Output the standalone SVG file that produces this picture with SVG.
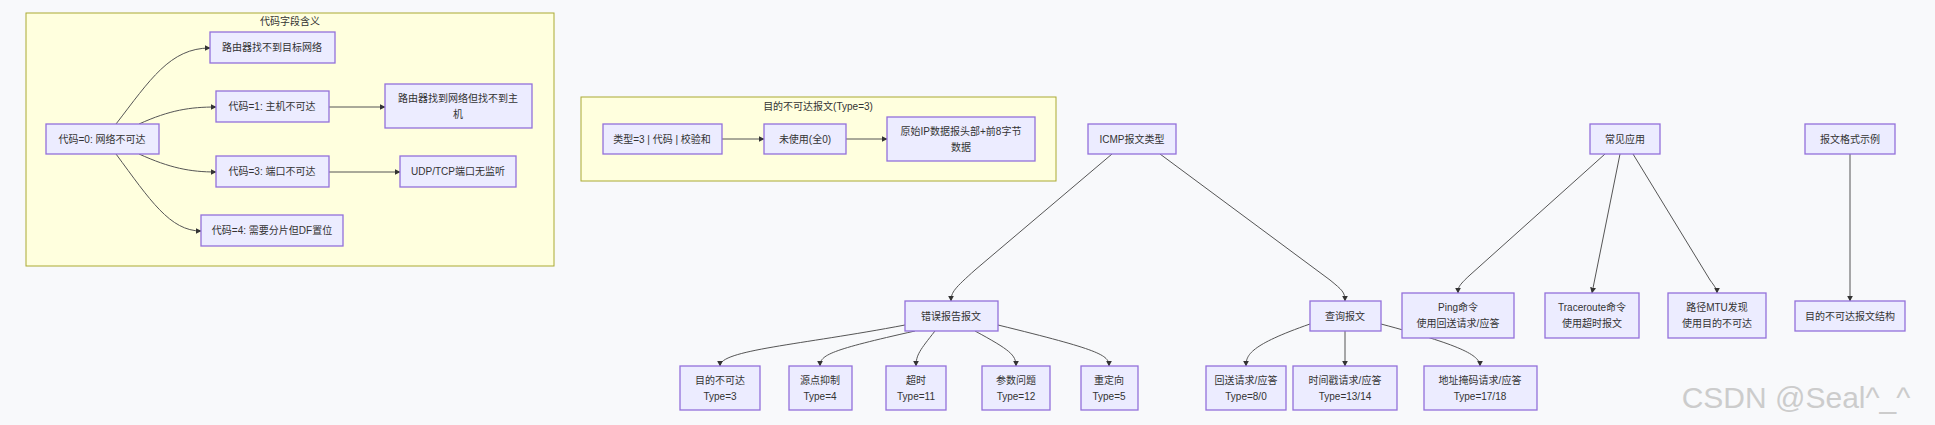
<svg xmlns="http://www.w3.org/2000/svg" width="1935" height="425" viewBox="0 0 1935 425">
<style>
.n rect{fill:#ECECFF;stroke:#9370DB;stroke-width:1.3}
.c{fill:#ffffde;stroke:#aaaa33;stroke-width:1}
text{font-family:"Liberation Sans","Noto Sans CJK SC",sans-serif;font-size:10px;fill:#333;text-anchor:middle;dominant-baseline:central}
.e path{fill:none;stroke:#555;stroke-width:1}
</style>
<defs><marker id="a" viewBox="0 0 10 10" refX="9" refY="5" markerWidth="6" markerHeight="6" orient="auto"><path d="M0,0L10,5L0,10z" fill="#333"/></marker></defs>
<rect width="1935" height="425" fill="#f8f9fb"/>
<g id="cluster1"><rect class="c" x="26" y="13" width="528" height="253"/><text x="290" y="21">代码字段含义</text></g>
<g id="cluster2"><rect class="c" x="581" y="97" width="475" height="84"/><text x="818" y="106">目的不可达报文(Type=3)</text></g>
<g class="e">
<path d="M116,124C150,80 170,48 210,48" marker-end="url(#a)"/>
<path d="M139,124C170,110 190,107 216,107" marker-end="url(#a)"/>
<path d="M139,154C170,168 190,172 216,172" marker-end="url(#a)"/>
<path d="M116,154C150,200 170,231 201,231" marker-end="url(#a)"/>
<path d="M329,107H385" marker-end="url(#a)"/>
<path d="M329,172H400" marker-end="url(#a)"/>
<path d="M722,139H764" marker-end="url(#a)"/>
<path d="M846,139H887" marker-end="url(#a)"/>
<path d="M1112,154L975,270C955,288 951,292 951,301" marker-end="url(#a)"/>
<path d="M1160,154L1330,280C1342,290 1345,292 1345,301" marker-end="url(#a)"/>
<path d="M905,325C800,345 720,350 720,366" marker-end="url(#a)"/>
<path d="M915,331C830,350 820,355 820,366" marker-end="url(#a)"/>
<path d="M935,331C920,350 916,355 916,366" marker-end="url(#a)"/>
<path d="M975,331C1010,350 1016,355 1016,366" marker-end="url(#a)"/>
<path d="M998,325C1100,350 1109,355 1109,366" marker-end="url(#a)"/>
<path d="M1310,324C1250,345 1246,355 1246,366" marker-end="url(#a)"/>
<path d="M1345,331V366" marker-end="url(#a)"/>
<path d="M1381,324C1460,345 1480,355 1480,366" marker-end="url(#a)"/>
<path d="M1605,154L1470,275C1458,286 1458,288 1458,293" marker-end="url(#a)"/>
<path d="M1620,154L1592,293" marker-end="url(#a)"/>
<path d="M1633,154L1710,280C1716,288 1717,290 1717,293" marker-end="url(#a)"/>
<path d="M1850,154V301" marker-end="url(#a)"/>
</g>
<g class="n">
<g id="code0"><rect x="46" y="124" width="113" height="30"/><text x="102" y="139">代码=0: 网络不可达</text></g>
<g id="net"><rect x="210" y="32" width="125" height="31"/><text x="272" y="47">路由器找不到目标网络</text></g>
<g id="code1"><rect x="216" y="91" width="113" height="31"/><text x="272" y="106">代码=1: 主机不可达</text></g>
<g id="host"><rect x="385" y="84" width="147" height="44"/><text x="458" y="98">路由器找到网络但找不到主</text><text x="458" y="114">机</text></g>
<g id="code3"><rect x="216" y="156" width="113" height="31"/><text x="272" y="171">代码=3: 端口不可达</text></g>
<g id="port"><rect x="400" y="156" width="116" height="31"/><text x="458" y="171">UDP/TCP端口无监听</text></g>
<g id="code4"><rect x="201" y="215" width="142" height="31"/><text x="272" y="230">代码=4: 需要分片但DF置位</text></g>
<g id="hdr"><rect x="603" y="124" width="119" height="30"/><text x="662" y="139">类型=3 | 代码 | 校验和</text></g>
<g id="unused"><rect x="764" y="124" width="82" height="30"/><text x="805" y="139">未使用(全0)</text></g>
<g id="orig"><rect x="887" y="117" width="148" height="44"/><text x="961" y="131">原始IP数据报头部+前8字节</text><text x="961" y="147">数据</text></g>
<g id="icmp"><rect x="1088" y="124" width="88" height="30"/><text x="1132" y="139">ICMP报文类型</text></g>
<g id="err"><rect x="905" y="301" width="93" height="30"/><text x="951" y="316">错误报告报文</text></g>
<g id="query"><rect x="1310" y="301" width="71" height="30"/><text x="1345" y="316">查询报文</text></g>
<g id="t3"><rect x="680" y="366" width="80" height="44"/><text x="720" y="380">目的不可达</text><text x="720" y="396">Type=3</text></g>
<g id="t4"><rect x="789" y="366" width="63" height="44"/><text x="820" y="380">源点抑制</text><text x="820" y="396">Type=4</text></g>
<g id="t11"><rect x="886" y="366" width="60" height="44"/><text x="916" y="380">超时</text><text x="916" y="396">Type=11</text></g>
<g id="t12"><rect x="982" y="366" width="68" height="44"/><text x="1016" y="380">参数问题</text><text x="1016" y="396">Type=12</text></g>
<g id="t5"><rect x="1081" y="366" width="57" height="44"/><text x="1109" y="380">重定向</text><text x="1109" y="396">Type=5</text></g>
<g id="t8"><rect x="1206" y="366" width="80" height="44"/><text x="1246" y="380">回送请求/应答</text><text x="1246" y="396">Type=8/0</text></g>
<g id="t13"><rect x="1293" y="366" width="104" height="44"/><text x="1345" y="380">时间戳请求/应答</text><text x="1345" y="396">Type=13/14</text></g>
<g id="t17"><rect x="1424" y="366" width="113" height="44"/><text x="1480" y="380">地址掩码请求/应答</text><text x="1480" y="396">Type=17/18</text></g>
<g id="apps"><rect x="1590" y="124" width="70" height="30"/><text x="1625" y="139">常见应用</text></g>
<g id="ping"><rect x="1402" y="293" width="112" height="45"/><text x="1458" y="307">Ping命令</text><text x="1458" y="323">使用回送请求/应答</text></g>
<g id="trace"><rect x="1545" y="293" width="94" height="45"/><text x="1592" y="307">Traceroute命令</text><text x="1592" y="323">使用超时报文</text></g>
<g id="mtu"><rect x="1668" y="293" width="98" height="45"/><text x="1717" y="307">路径MTU发现</text><text x="1717" y="323">使用目的不可达</text></g>
<g id="fmt"><rect x="1805" y="124" width="90" height="30"/><text x="1850" y="139">报文格式示例</text></g>
<g id="struct"><rect x="1795" y="301" width="110" height="30"/><text x="1850" y="316">目的不可达报文结构</text></g>
</g>
<text x="1796" y="397" style="font-size:30px;fill:#cccccc">CSDN @Seal^_^</text>
</svg>
